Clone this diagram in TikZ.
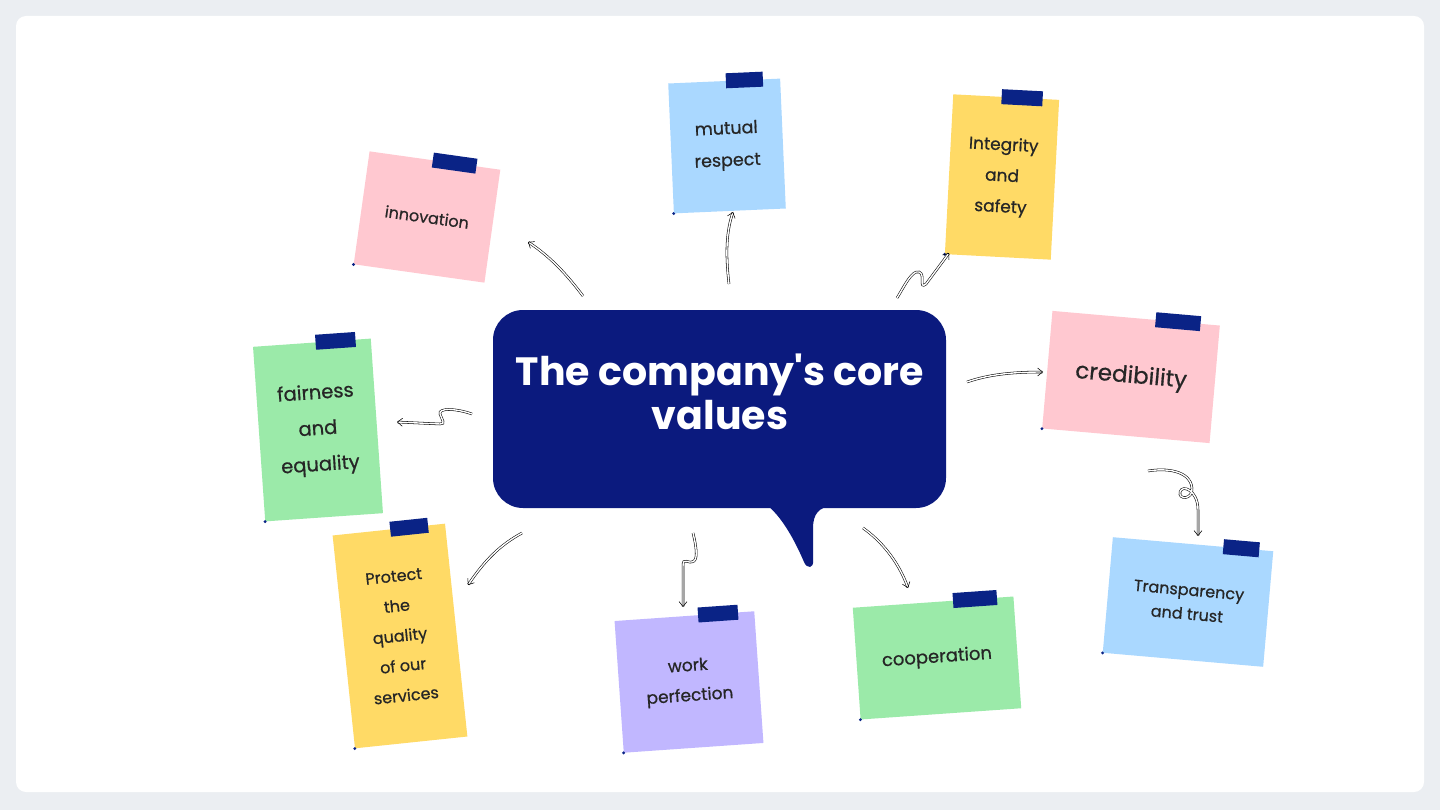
\documentclass[tikz,border=0pt]{standalone}
\usepackage{fontspec}
\setmainfont{Poppins}
\newfontfamily\titlefont{Poppins}[Ligatures=TeXOff]
\newfontfamily\notefont{Poppins}[FakeBold=0.7]
\usetikzlibrary{calc,arrows.meta}
\definecolor{pagebg}{HTML}{EBEEF2}
\definecolor{navy}{HTML}{0B1A7E}
\definecolor{tapeblue}{HTML}{0A2386}
\definecolor{pinknote}{HTML}{FFC8D0}
\definecolor{bluenote}{HTML}{AAD8FF}
\definecolor{yellownote}{HTML}{FFDA66}
\definecolor{greennote}{HTML}{9BEAA9}
\definecolor{purplenote}{HTML}{C1B7FF}
\definecolor{inktext}{HTML}{262626}

\begin{document}
\begin{tikzpicture}[x=1pt,y=-1pt,
  note/.style={inner sep=0pt, align=center, text=inktext, font=\notefont\fontsize{16}{31}\selectfont},
  tape/.style={fill=tapeblue, minimum width=44pt, minimum height=15pt, inner sep=0pt},
  arr/.style={draw=black, line width=0.55pt, double=white, double distance=1.4pt, -{Straight Barb[length=5pt,width=8pt]}}]
\fill[pagebg] (0,0) rectangle (1440,810);
\fill[white, rounded corners=10pt] (16,16) rectangle (1424,792);
\useasboundingbox (0,0) rectangle (1440,810);

% speech bubble
\fill[navy, rounded corners=30pt] (493,310) rectangle (946,508);
\fill[navy] (768,506) .. controls (785,520) and (798,548) .. (804,562) .. controls (807,569) and (814,569) .. (813,560) -- (813,528) .. controls (813,514) and (819,507) .. (832,506) -- cycle;
\node[text=white, font=\titlefont\bfseries\fontsize{39.5}{44}\selectfont, align=center] (core) at (720,392) {The company's core\\values};

% sticky notes
\node[note, fill=pinknote, minimum width=132pt, minimum height=114pt, rotate=-8] (innov) at (427,217) {innovation};
\node[note, fill=bluenote, minimum width=112pt, minimum height=130pt, rotate=2.5, font=\notefont\fontsize{17.5}{32}\selectfont] (mutual) at (727,146) {mutual\\respect};
\node[note, fill=yellownote, minimum width=106pt, minimum height=160pt, rotate=-3, font=\notefont\fontsize{17}{31}\selectfont] (integ) at (1002,177) {Integrity\\and\\safety};
\node[note, fill=pinknote, minimum width=168pt, minimum height=118pt, rotate=-5, font=\notefont\fontsize{23}{31}\selectfont] (cred) at (1131,377) {credibility};
\node[note, fill=bluenote, minimum width=161pt, minimum height=116pt, rotate=-5, font=\notefont\fontsize{16}{24}\selectfont] (transp) at (1188,602) {Transparency\\and trust};
\node[note, fill=greennote, minimum width=118pt, minimum height=175pt, rotate=4, font=\notefont\fontsize{19.5}{36}\selectfont] (fair) at (318,430) {fairness\\and\\equality};
\node[note, fill=yellownote, minimum width=113pt, minimum height=214pt, rotate=6, font=\notefont\fontsize{16}{30}\selectfont] (protect) at (400,636) {Protect\\the\\quality\\of our\\services};
\node[note, fill=purplenote, minimum width=140pt, minimum height=132pt, rotate=4, font=\notefont\fontsize{17}{30}\selectfont] (work) at (689,682) {work\\perfection};
\node[note, fill=greennote, minimum width=161pt, minimum height=112pt, rotate=4, font=\notefont\fontsize{18}{30}\selectfont] (coop) at (937,658) {cooperation};

% tapes
\node[tape, rotate=-8] (innovtape) at ($(innov.north east)!0.35!(innov.north west)$) {};
\node[tape, rotate=2.5, minimum width=37pt] (mutualtape) at ($(mutual.north east)!0.32!(mutual.north west)$) {};
\node[tape, rotate=-3, minimum width=41pt] (integtape) at ($(integ.north east)!0.35!(integ.north west)$) {};
\node[tape, rotate=-5, minimum width=45pt] (credtape) at ($(cred.north east)!0.25!(cred.north west)$) {};
\node[tape, rotate=-5, minimum width=36pt] (transptape) at ($(transp.north east)!0.2!(transp.north west)$) {};
\node[tape, rotate=4, minimum width=40pt] (fairtape) at ($(fair.north east)!0.3!(fair.north west)$) {};
\node[tape, rotate=6, minimum width=38pt] (protecttape) at ($(protect.north east)!0.32!(protect.north west)$) {};
\node[tape, rotate=4, minimum width=40pt] (worktape) at ($(work.north east)!0.26!(work.north west)$) {};
\node[tape, rotate=4, minimum width=44pt] (cooptape) at ($(coop.north east)!0.24!(coop.north west)$) {};
\foreach \n in {innov,mutual,integ,cred,transp,fair,protect,work,coop}
  \fill[tapeblue] (\n.south west) circle (1.6pt);

% hand drawn arrows
\coordinate (innovfrom) at (583,296);
\coordinate (mutualfrom) at (729,284);
\coordinate (integfrom) at (897,298);
\coordinate (credfrom) at (967,382);
\coordinate (transpfrom) at (1148,471);
\coordinate (fairfrom) at (472,414);
\coordinate (protectfrom) at (522,533);
\coordinate (workfrom) at (693,533);
\coordinate (coopfrom) at (863,528);
\coordinate (innovto) at (528,242);
\coordinate (mutualto) at (733,212);
\coordinate (integto) at (949,253);
\coordinate (credto) at (1043,372);
\coordinate (transpto) at (1198,536);
\coordinate (fairto) at (397,422);
\coordinate (protectto) at (468,585);
\coordinate (workto) at (683,607);
\coordinate (coopto) at (908,588);
\draw[arr] (innovfrom) .. controls (565,272) and (548,255) .. (innovto);
\draw[arr] (mutualfrom) .. controls (725,250) and (727,230) .. (mutualto);
\draw[arr] (integfrom) .. controls (905,285) and (912,270) .. (919,272) .. controls (926,274) and (918,290) .. (926,284) -- (integto);
\draw[arr] (credfrom) .. controls (990,374) and (1015,372) .. (credto);
\draw[arr] (transpfrom) .. controls (1165,468) and (1190,470) .. (1192,488) .. controls (1193,500) and (1178,500) .. (1180,492) .. controls (1182,484) and (1198,490) .. (1198,510) -- (transpto);
\draw[arr] (fairfrom) .. controls (455,408) and (438,408) .. (440,414) .. controls (442,420) and (446,424) .. (440,424) -- (fairto);
\draw[arr] (protectfrom) .. controls (500,545) and (485,560) .. (protectto);
\draw[arr] (workfrom) .. controls (696,545) and (698,558) .. (694,561) .. controls (688,565) and (683,556) .. (683,566) -- (workto);
\draw[arr] (coopfrom) .. controls (880,540) and (898,560) .. (coopto);
\end{tikzpicture}
\end{document}
